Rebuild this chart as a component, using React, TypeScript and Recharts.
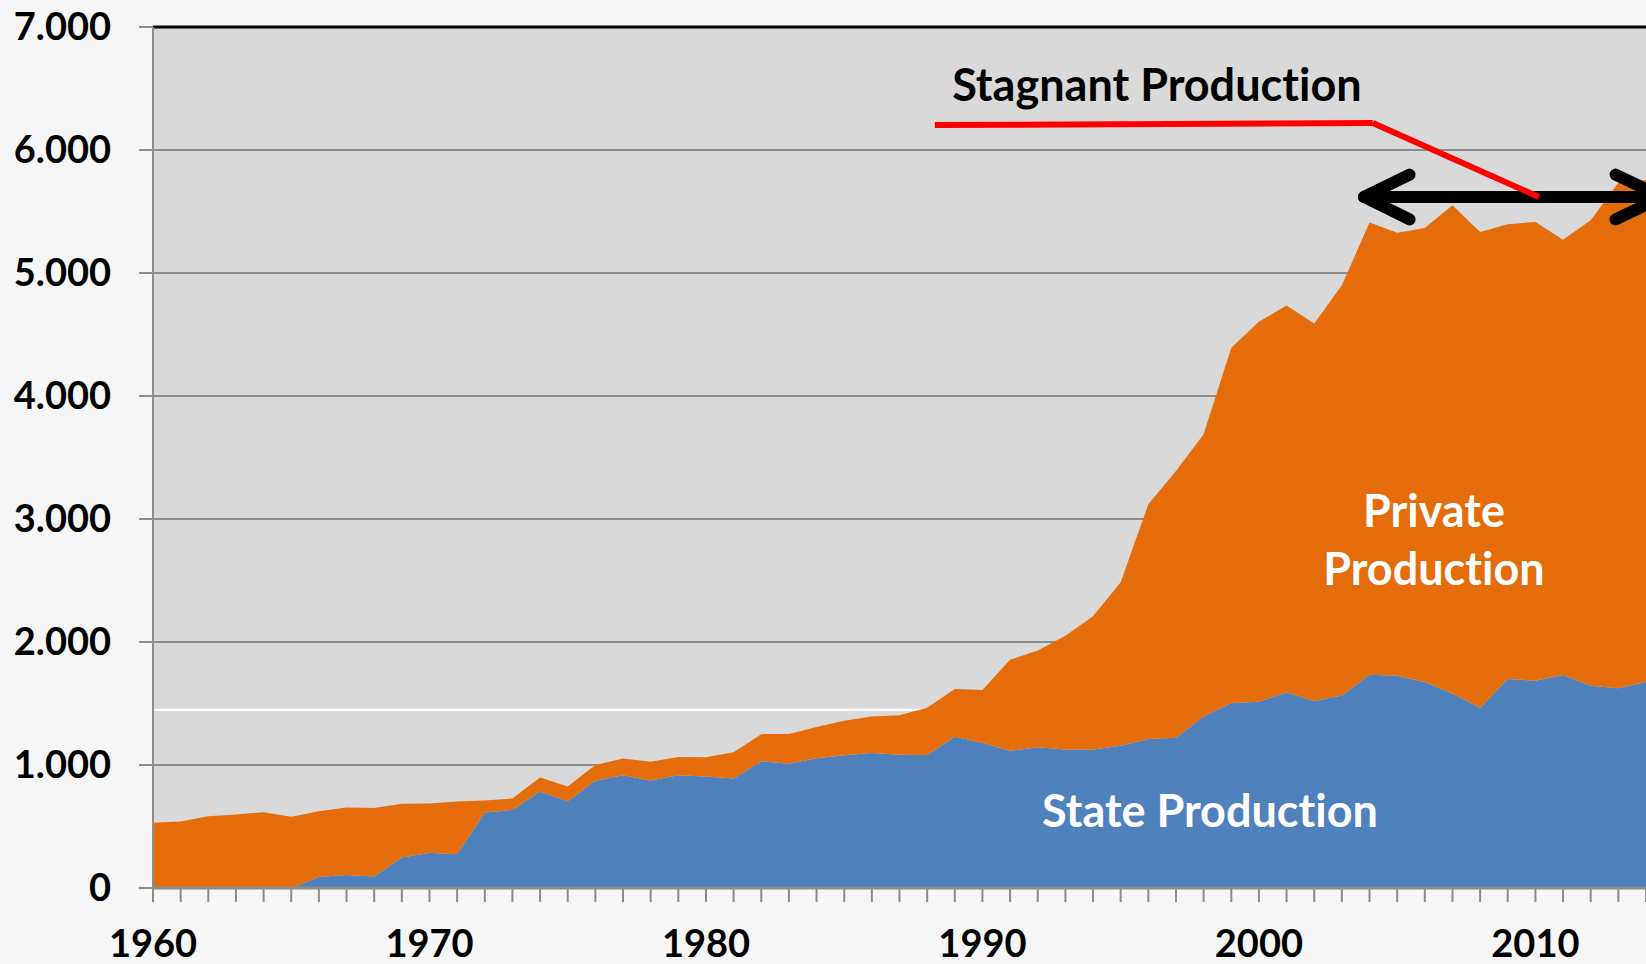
import React from "react";
import {
  AreaChart,
  Area,
  XAxis,
  YAxis,
  CartesianGrid,
  ReferenceLine,
  ReferenceDot,
} from "recharts";

const years = [
  1960, 1961, 1962, 1963, 1964, 1965, 1966, 1967, 1968, 1969,
  1970, 1971, 1972, 1973, 1974, 1975, 1976, 1977, 1978, 1979,
  1980, 1981, 1982, 1983, 1984, 1985, 1986, 1987, 1988, 1989,
  1990, 1991, 1992, 1993, 1994, 1995, 1996, 1997, 1998, 1999,
  2000, 2001, 2002, 2003, 2004, 2005, 2006, 2007, 2008, 2009,
  2010, 2011, 2012, 2013, 2014,
];

const stateProduction = [
  0, 0, 0, 0, 0, 0, 90, 106, 93, 248,
  286, 275, 613, 635, 785, 706, 872, 916, 875, 916,
  907, 891, 1030, 1011, 1054, 1079, 1097, 1084, 1081, 1230,
  1181, 1116, 1144, 1127, 1127, 1157, 1211, 1222, 1395, 1505,
  1515, 1591, 1521, 1566, 1733, 1726, 1674, 1581, 1465, 1700,
  1685, 1732, 1645, 1624, 1674,
];

const privateProduction = [
  531, 540, 583, 597, 616, 580, 534, 548, 558, 436,
  401, 428, 98, 93, 114, 120, 128, 136, 152, 149,
  156, 213, 221, 242, 254, 281, 298, 320, 385, 388,
  429, 739, 786, 923, 1083, 1328, 1909, 2168, 2295, 2887,
  3089, 3144, 3069, 3334, 3677, 3602, 3691, 3970, 3869, 3697,
  3730, 3538, 3784, 4110, 4080,
];

const yTicks = [0, 1000, 2000, 3000, 4000, 5000, 6000, 7000];
const xLabelYears = [1960, 1970, 1980, 1990, 2000, 2010];

const data = years.map((year, i) => ({
  year,
  state: stateProduction[i],
  private: privateProduction[i],
}));

const FONT = "Lato, 'Open Sans', sans-serif";

const formatY = (v: number) => (v === 0 ? "0" : `${v / 1000}.000`);

const XTick = (props: any) => {
  const { x, y, payload } = props;
  if (!xLabelYears.includes(payload.value)) return <g />;
  return (
    <text
      x={x}
      y={y}
      dy={55}
      textAnchor="middle"
      fill="#000"
      fontSize={38}
      fontWeight={700}
      fontFamily={FONT}
    >
      {payload.value}
    </text>
  );
};

const labelStyle = (value: string, fill: string) => ({
  value,
  position: "center" as const,
  fill,
  fontSize: 45,
  fontWeight: 700,
  fontFamily: FONT,
});

const ARROW = 12;

export default function App() {
  return (
    <div
      style={{
        position: "absolute",
        left: 0,
        top: 0,
        width: 1646,
        height: 964,
        background: "#f6f6f6",
        overflow: "hidden",
      }}
    >
      <style>{`text { font-variant-ligatures: none; font-feature-settings: "liga" 0, "clig" 0; }`}</style>
      <AreaChart
        width={1646}
        height={964}
        data={data}
        margin={{ top: 27, right: 0, left: 0, bottom: 0 }}
      >
        <CartesianGrid
          vertical={false}
          stroke="#8c8c8c"
          strokeWidth={2}
          fill="#d9d9d9"
          fillOpacity={1}
        />
        <CartesianGrid
          vertical={false}
          horizontalValues={[1450]}
          stroke="#ffffff"
          strokeWidth={2}
        />
        <XAxis
          dataKey="year"
          type="number"
          domain={[1960, 2014]}
          ticks={years}
          interval={0}
          tickSize={14}
          tickMargin={0}
          height={76}
          axisLine={{ stroke: "#8c8c8c", strokeWidth: 3 }}
          tickLine={{ stroke: "#8c8c8c", strokeWidth: 2 }}
          tick={<XTick />}
          allowDataOverflow
        />
        <YAxis
          type="number"
          domain={[0, 7000]}
          ticks={yTicks}
          interval={0}
          width={153}
          tickSize={14}
          tickMargin={28}
          tickFormatter={formatY}
          axisLine={{ stroke: "#8c8c8c", strokeWidth: 2 }}
          tickLine={{ stroke: "#8c8c8c", strokeWidth: 2 }}
          tick={{ fill: "#000", fontSize: 38, fontWeight: 700, fontFamily: FONT }}
        />
        <Area
          type="linear"
          dataKey="state"
          stackId="1"
          fill="#4f81bd"
          fillOpacity={1}
          stroke="none"
          isAnimationActive={false}
        />
        <Area
          type="linear"
          dataKey="private"
          stackId="1"
          fill="#e46c0a"
          fillOpacity={1}
          stroke="none"
          isAnimationActive={false}
        />
        <ReferenceLine y={7000} stroke="#000" strokeWidth={3} />
        {/* black double-headed arrow */}
        <ReferenceLine
          segment={[{ x: 2003.95, y: 5618 }, { x: 2014.6, y: 5618 }]}
          stroke="#000"
          strokeWidth={ARROW}
          ifOverflow="visible"
        />
        <ReferenceLine
          segment={[{ x: 2003.8, y: 5618 }, { x: 2005.45, y: 5800 }]}
          stroke="#000"
          strokeWidth={ARROW}
          strokeLinecap="round"
          ifOverflow="visible"
        />
        <ReferenceLine
          segment={[{ x: 2003.8, y: 5618 }, { x: 2005.45, y: 5436 }]}
          stroke="#000"
          strokeWidth={ARROW}
          strokeLinecap="round"
          ifOverflow="visible"
        />
        <ReferenceLine
          segment={[{ x: 2014.6, y: 5618 }, { x: 2012.9, y: 5800 }]}
          stroke="#000"
          strokeWidth={ARROW}
          strokeLinecap="round"
          ifOverflow="visible"
        />
        <ReferenceLine
          segment={[{ x: 2014.6, y: 5618 }, { x: 2012.9, y: 5436 }]}
          stroke="#000"
          strokeWidth={ARROW}
          strokeLinecap="round"
          ifOverflow="visible"
        />
        {/* red callout line */}
        <ReferenceLine
          segment={[{ x: 1988.28, y: 6203 }, { x: 2004.12, y: 6220 }]}
          stroke="#ff0000"
          strokeWidth={6}
          ifOverflow="visible"
        />
        <ReferenceLine
          segment={[{ x: 2004.12, y: 6220 }, { x: 2010.13, y: 5618 }]}
          stroke="#ff0000"
          strokeWidth={6}
          ifOverflow="visible"
        />
        {/* text annotations */}
        <ReferenceDot
          x={1996.31}
          y={6530}
          r={0}
          fill="none"
          stroke="none"
          label={labelStyle("Stagnant Production", "#000")}
        />
        <ReferenceDot
          x={1998.23}
          y={626}
          r={0}
          fill="none"
          stroke="none"
          label={labelStyle("State Production", "#fff")}
        />
        <ReferenceDot
          x={2006.33}
          y={3065}
          r={0}
          fill="none"
          stroke="none"
          label={labelStyle("Private", "#fff")}
        />
        <ReferenceDot
          x={2006.33}
          y={2593}
          r={0}
          fill="none"
          stroke="none"
          label={labelStyle("Production", "#fff")}
        />
      </AreaChart>
    </div>
  );
}
